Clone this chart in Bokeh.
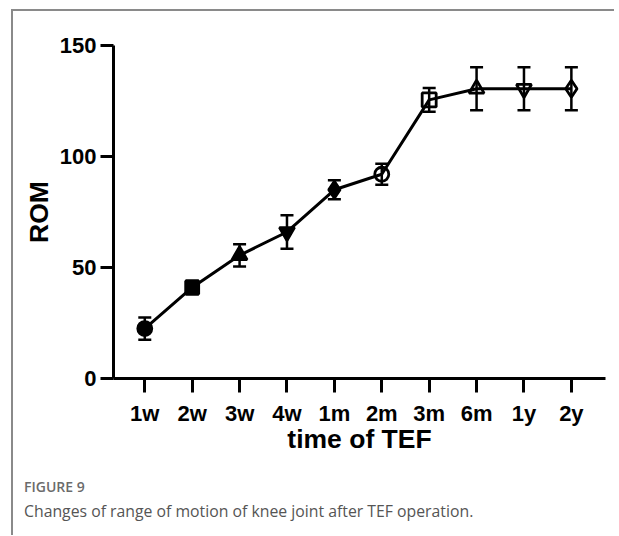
from bokeh.plotting import figure
from bokeh.models import (ColumnDataSource, Range1d, FixedTicker, Whisker, TeeHead, Div)
from bokeh.layouts import column
from bokeh.embed import file_html
from bokeh.resources import INLINE

# ---- data ----
categories = ["1w", "2w", "3w", "4w", "1m", "2m", "3m", "6m", "1y", "2y"]
rom_mean = [22.5, 41, 55.5, 66, 85, 92, 125.5, 130.5, 130.5, 130.5]
rom_err = [5, 3, 5, 7.5, 4.3, 4.7, 5.3, 9.7, 9.7, 9.7]
markers = ["circle", "square", "triangle", "inverted_triangle", "diamond",
           "circle", "square", "triangle", "inverted_triangle", "diamond"]
filled = [True, True, True, True, True, False, False, False, False, False]
y_ticks = [0, 50, 100, 150]

xs = list(range(len(categories)))
src = ColumnDataSource(dict(
    x=xs,
    y=rom_mean,
    upper=[m + e for m, e in zip(rom_mean, rom_err)],
    lower=[m - e for m, e in zip(rom_mean, rom_err)],
    marker=markers,
    falpha=[1.0 if f else 0.0 for f in filled],
    size=[14, 13, 15, 15, 17, 14, 14, 15, 15, 17],
))

p = figure(width=598, height=452, output_backend="svg", toolbar_location=None,
           x_range=Range1d(-0.66, 9.72), y_range=Range1d(0, 150),
           min_border_left=100, min_border_right=6, min_border_top=34,
           min_border_bottom=85)
p.outline_line_color = None
p.grid.visible = False
p.background_fill_color = "white"
p.border_fill_color = "white"

p.line("x", "y", source=src, line_color="black", line_width=3)
w = Whisker(base="x", upper="upper", lower="lower", source=src,
            line_color="black", line_width=2.5,
            upper_head=TeeHead(size=13, line_width=2.5, line_color="black"),
            lower_head=TeeHead(size=13, line_width=2.5, line_color="black"))
p.add_layout(w)
p.scatter("x", "y", source=src, marker="marker", size="size",
          fill_color="black", fill_alpha="falpha",
          line_color="black", line_width=2.8)

for ax in (p.xaxis[0], p.yaxis[0]):
    ax.axis_line_width = 3
    ax.axis_line_color = "black"
    ax.major_tick_line_width = 3
    ax.major_tick_line_color = "black"
    ax.major_tick_in = 0
    ax.minor_tick_line_color = None
    ax.major_label_text_font = "Liberation Sans"
    ax.major_label_text_font_style = "bold"
    ax.major_label_text_font_size = "22px"
    ax.major_label_text_color = "black"
    ax.axis_label_text_font = "Liberation Sans"
    ax.axis_label_text_font_style = "bold"
    ax.axis_label_text_font_size = "26.5px"
    ax.axis_label_text_color = "black"

p.yaxis.ticker = FixedTicker(ticks=y_ticks)
p.yaxis.major_tick_out = 13
p.yaxis.major_label_standoff = 4
p.yaxis.axis_label = "ROM"
p.yaxis.axis_label_standoff = 3

p.xaxis.ticker = FixedTicker(ticks=xs)
p.xaxis.major_label_overrides = {i: c for i, c in enumerate(categories)}
p.xaxis.major_tick_out = 14
p.xaxis.major_label_standoff = 8
p.xaxis.axis_label = "time of TEF"
p.xaxis.axis_label_standoff = -5

caption = Div(
    text=("<div style=\"font-family:'Open Sans';font-weight:600;font-size:14px;"
          "color:#6b6b6b;line-height:20px;\">FIGURE 9</div>"
          "<div style=\"font-family:'Open Sans';font-size:15.8px;color:#555555;"
          "line-height:28px;\">Changes of range of motion of knee joint after TEF operation.</div>"),
    width=590, height=58, margin=(14, 0, 0, 11))

layout = column(p, caption, margin=(9, 0, 0, 11),
                styles={"border-left": "2px solid #8a8a8a",
                        "border-top": "2px solid #8a8a8a"})

open("out.html", "w").write(file_html(layout, INLINE))
